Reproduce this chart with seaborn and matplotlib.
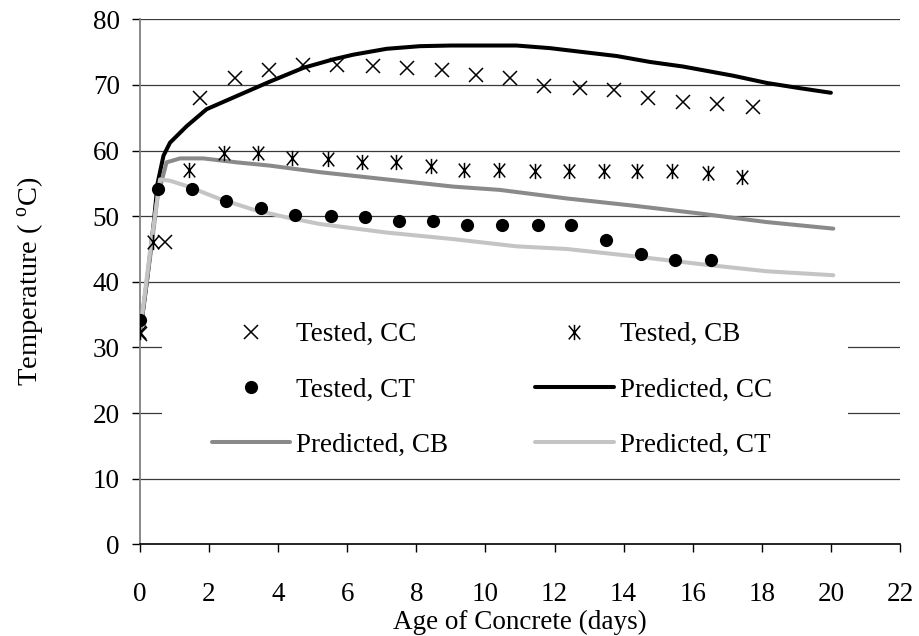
import numpy as np
import pandas as pd
import seaborn as sns
import matplotlib
matplotlib.use("Agg")
import matplotlib.pyplot as plt
from matplotlib.path import Path
from matplotlib.patches import Rectangle

# Measured temperatures (days, deg C)
tested_cc_x = [0, 0.72, 1.74, 2.75, 3.73, 4.72, 5.70, 6.74, 7.73, 8.74, 9.72,
               10.71, 11.69, 12.74, 13.72, 14.70, 15.72, 16.70, 17.74]
tested_cc_y = [32.0, 46.0, 68.0, 71.0, 72.2, 73.0, 73.0, 72.9, 72.6, 72.2, 71.5,
               71.0, 69.9, 69.6, 69.2, 68.0, 67.4, 67.1, 66.6]

tested_cb_x = [0, 0.39, 1.43, 2.43, 3.41, 4.40, 5.44, 6.43, 7.41, 8.42, 9.39,
               10.39, 11.43, 12.42, 13.42, 14.40, 15.39, 16.44, 17.43]
tested_cb_y = [32.3, 46.1, 57.1, 59.6, 59.6, 58.9, 58.7, 58.3, 58.3, 57.7, 57.1,
               57.1, 56.9, 56.9, 56.9, 56.9, 56.9, 56.5, 55.9]

tested_ct_x = [0, 0.51, 1.51, 2.49, 3.49, 4.48, 5.52, 6.51, 7.51, 8.49, 9.48,
               10.47, 11.51, 12.49, 13.49, 14.49, 15.48, 16.52]
tested_ct_y = [34.2, 54.2, 54.2, 52.3, 51.2, 50.1, 50.0, 49.8, 49.3, 49.3, 48.7,
               48.7, 48.7, 48.7, 46.3, 44.3, 43.3, 43.3]

# Model predictions
pred_cc_x = [0, 0.2, 0.4, 0.51, 0.68, 0.87, 1.35, 1.93, 2.8, 3.76, 4.73, 5.6,
             6.17, 7.14, 8.1, 9.0, 10.0, 10.9, 11.87, 12.83, 13.8, 14.76, 15.72,
             17.17, 18.14, 19.1, 20.0]
pred_cc_y = [32.0, 40.0, 49.0, 55.0, 59.2, 61.2, 63.7, 66.3, 68.3, 70.5, 72.6, 73.9,
             74.6, 75.5, 75.9, 76.0, 76.0, 76.0, 75.6, 75.0, 74.4, 73.5, 72.8,
             71.4, 70.3, 69.5, 68.8]

pred_cb_x = [0, 0.3, 0.51, 0.77, 1.16, 1.83, 2.8, 3.76, 5.21, 7.14, 9.07, 10.42,
             12.35, 14.28, 16.21, 18.14, 20.07]
pred_cb_y = [32.3, 44.0, 53.0, 58.2, 58.8, 58.8, 58.2, 57.7, 56.7, 55.6, 54.5, 54.0,
             52.7, 51.6, 50.4, 49.1, 48.1]

pred_ct_x = [0, 0.3, 0.58, 0.87, 1.35, 2.32, 3.28, 4.25, 5.21, 7.14, 9.07, 10.9,
             12.35, 14.28, 16.21, 18.14, 20.07]
pred_ct_y = [32.3, 45.0, 55.6, 55.4, 54.6, 52.6, 51.0, 49.8, 48.8, 47.5, 46.5, 45.4,
             45.0, 43.9, 42.7, 41.6, 41.0]

x_ticks = list(range(0, 23, 2))
y_ticks = list(range(0, 81, 10))

sns.set_theme(style="white")
plt.rcParams["font.family"] = ["Liberation Serif", "DejaVu Serif"]
plt.rcParams["mathtext.fontset"] = "custom"
plt.rcParams["mathtext.rm"] = "Liberation Serif"
plt.rcParams["text.color"] = "black"
plt.rcParams["axes.labelcolor"] = "black"
plt.rcParams["xtick.color"] = "black"
plt.rcParams["ytick.color"] = "black"

fig = plt.figure(figsize=(9.19, 6.36), dpi=100)
ax = fig.add_axes([0.1523, 0.1442, 0.9793 - 0.1523, 0.9697 - 0.1442])

# Asterisk marker: an "x" crossed by a vertical stroke
star = Path([(-0.75, -0.9), (0.75, 0.9), (-0.75, 0.9), (0.75, -0.9), (0, -1), (0, 1)],
            [Path.MOVETO, Path.LINETO, Path.MOVETO, Path.LINETO, Path.MOVETO, Path.LINETO])

pred = [
    ("Predicted, CC", pred_cc_x, pred_cc_y, "#000000"),
    ("Predicted, CB", pred_cb_x, pred_cb_y, "#8a8a8a"),
    ("Predicted, CT", pred_ct_x, pred_ct_y, "#c4c4c4"),
]
for label, xs, ys, col in pred:
    df = pd.DataFrame({"age": xs, "temp": ys})
    sns.lineplot(data=df, x="age", y="temp", ax=ax, color=col, lw=2.9,
                 label=label, sort=False, zorder=3)

tested = [
    ("Tested, CC", tested_cc_x, tested_cc_y, "x", 10, 1.1),
    ("Tested, CB", tested_cb_x, tested_cb_y, star, 11, 1.1),
    ("Tested, CT", tested_ct_x, tested_ct_y, "o", 9.5, 0),
]
for label, xs, ys, mk, ms, mew in tested:
    ax.plot(xs, ys, linestyle="none", marker=mk, markersize=ms,
            markeredgewidth=mew, color="black", markerfacecolor="black",
            label=label, zorder=4)

ax.set_xlim(0, 22)
ax.set_ylim(0, 80)
ax.set_xticks(x_ticks)
ax.set_yticks(y_ticks)
ax.tick_params(axis="x", labelsize=19.5, length=6, width=1, direction="out",
               pad=21, color="black", labelcolor="black", bottom=True)
ax.tick_params(axis="y", labelsize=19.5, length=6, width=1, direction="out",
               pad=8.5, color="black", labelcolor="black", left=True)

for y in y_ticks[1:]:
    ax.axhline(y, color="#3a3a3a", lw=0.9, zorder=0.5)

ax.spines["top"].set_visible(False)
ax.spines["right"].set_visible(False)
ax.spines["left"].set_color("#808080")
ax.spines["left"].set_linewidth(1.3)
ax.spines["bottom"].set_color("black")
ax.spines["bottom"].set_linewidth(1.2)

ax.set_xlabel("Age of Concrete (days)", fontsize=19.5, labelpad=2)
ax.set_ylabel(r"Temperature ( $\mathregular{^{o}}$C)", fontsize=20.5, labelpad=34)

# White legend area hiding the grid behind the entries
ax.add_patch(Rectangle((0.029, 0.1415), 0.903, 0.3235, transform=ax.transAxes,
                       facecolor="white", edgecolor="none", zorder=1))

handles, labels = ax.get_legend_handles_labels()
lookup = dict(zip(labels, handles))
order = ["Tested, CC", "Tested, CT", "Predicted, CB",
         "Tested, CB", "Predicted, CC", "Predicted, CT"]
ax.legend([lookup[k] for k in order], order, ncol=2, loc="center",
          bbox_to_anchor=(0.463, 0.294), frameon=False, fontsize=19.5,
          handlelength=2.9, handletextpad=0.22, columnspacing=3.2,
          labelspacing=1.11, borderpad=0, borderaxespad=0, labelcolor="black")

fig.savefig("out.png", dpi=100)
